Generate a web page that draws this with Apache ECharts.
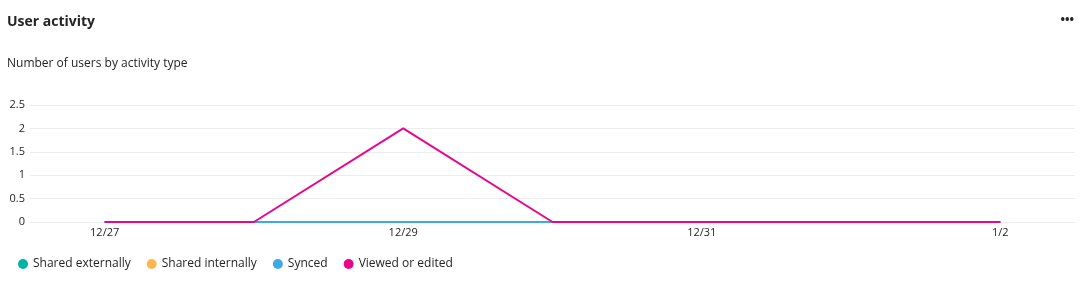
<!DOCTYPE html>
<html><head><meta charset="utf-8">
<script src="https://cdn.jsdelivr.net/npm/echarts@6/dist/echarts.min.js"></script>
<style>
html,body{margin:0;padding:0;background:#fff;}
#c{width:1086px;height:281px;}
</style></head>
<body><div id="c"></div>
<script>
const categories = ['12/27','12/28','12/29','12/30','12/31','1/1','1/2'];
const sharedExternally = [0,0,0,0,0,0,0];
const sharedInternally = [0,0,0,0,0,0,0];
const synced = [0,0,0,0,0,0,0];
const viewedOrEdited = [0,0,2,0,0,0,0];
const seriesNames = ['Shared externally','Shared internally','Synced','Viewed or edited'];
const colors = ['#00B5A5','#FFB84D','#3FA9E6','#E8078A'];
const font = '"Open Sans", "Noto Sans", sans-serif';

const chart = echarts.init(document.getElementById('c'));
const dataArr = [sharedExternally, sharedInternally, synced, viewedOrEdited];
chart.setOption({
  animation:false,
  color: colors,
  title:[
    {text:'User activity', left:2, top:10, textStyle:{fontFamily:font, fontSize:14, fontWeight:'bold', color:'#252423'}},
    {text:'Number of users by activity type', left:2, top:53, textStyle:{fontFamily:font, fontSize:12, fontWeight:'normal', color:'#252423'}},
    {text:'•••', right:7, top:10, textStyle:{fontFamily:font, fontSize:12, fontWeight:'bold', color:'#252423'}}
  ],
  grid:{left:30, right:11, top:105, bottom:59, containLabel:false},
  legend:{
    left:13, top:253, icon:'circle', itemWidth:10, itemHeight:10, itemGap:16,
    textStyle:{fontFamily:font, fontSize:12, color:'#252423'},
    data: seriesNames
  },
  xAxis:{
    type:'category', data:categories, boundaryGap:true,
    axisLine:{show:false}, axisTick:{show:false},
    axisLabel:{interval:1, fontFamily:font, fontSize:11, color:'#252423', margin:5}
  },
  yAxis:{
    type:'value', min:0, max:2.5, interval:0.5,
    axisLine:{show:false}, axisTick:{show:false},
    axisLabel:{fontFamily:font, fontSize:11, color:'#252423', margin:5},
    splitLine:{lineStyle:{color:'#EDEDED', width:1}}
  },
  series: seriesNames.map((n,i)=>({
    name:n, type:'line', data:dataArr[i], symbol:'none',
    lineStyle:{width:2, color:colors[i]}, itemStyle:{color:colors[i]}
  }))
});
</script></body></html>
